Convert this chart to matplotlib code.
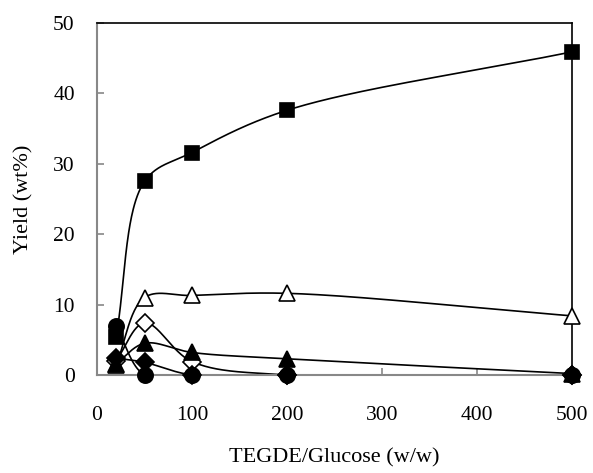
import numpy as np
import matplotlib
matplotlib.use('Agg')
import matplotlib.pyplot as plt

plt.rcParams['font.family'] = ['Liberation Serif', 'DejaVu Serif']

# Data
ratio = [20, 50, 100, 200, 500]
sq_filled = [5.4, 27.5, 31.6, 37.6, 45.9]
tri_open = [1.4, 11.0, 11.3, 11.6, 8.4]
dia_open = [2.0, 7.4, 1.9, 0.0, 0.0]
tri_filled = [1.6, 4.5, 3.2, 2.3, 0.2]
dia_filled = [2.4, 1.8, 0.0, 0.0, 0.0]
circ_filled = [6.9, 0.0, 0.0, 0.0, 0.0]

# pixel scale used so the smoothing looks like the spreadsheet one
sx, sy = 0.95, 7.04


def smooth(xs, ys, n=60, alpha=0.5):
    """Centripetal Catmull-Rom through the points, done in screen units."""
    p = np.column_stack([np.array(xs) * sx, np.array(ys) * sy])
    pts = np.vstack([2 * p[0] - p[1], p, 2 * p[-1] - p[-2]])
    out = []
    for i in range(len(pts) - 3):
        P0, P1, P2, P3 = pts[i:i + 4]
        t0 = 0.0
        t1 = t0 + np.linalg.norm(P1 - P0) ** alpha
        t2 = t1 + np.linalg.norm(P2 - P1) ** alpha
        t3 = t2 + np.linalg.norm(P3 - P2) ** alpha
        t = np.linspace(t1, t2, n)[:, None]
        A1 = (t1 - t) / (t1 - t0) * P0 + (t - t0) / (t1 - t0) * P1
        A2 = (t2 - t) / (t2 - t1) * P1 + (t - t1) / (t2 - t1) * P2
        A3 = (t3 - t) / (t3 - t2) * P2 + (t - t2) / (t3 - t2) * P3
        B1 = (t2 - t) / (t2 - t0) * A1 + (t - t0) / (t2 - t0) * A2
        B2 = (t3 - t) / (t3 - t1) * A2 + (t - t1) / (t3 - t1) * A3
        C = (t2 - t) / (t2 - t1) * B1 + (t - t1) / (t2 - t1) * B2
        out.append(C)
    out = np.vstack(out)
    return out[:, 0] / sx, out[:, 1] / sy


fig = plt.figure(figsize=(5.93, 4.73), dpi=100)
ax = fig.add_axes([0.1636, 0.2072, 0.801, 0.7442])

series = [
    (sq_filled, 's', 'black', 10),
    (tri_open, '^', 'white', 12),
    (dia_open, 'D', 'white', 9),
    (tri_filled, '^', 'black', 12),
    (dia_filled, 'D', 'black', 9),
    (circ_filled, 'o', 'black', 11),
]

for ys, mk, fc, ms in series:
    cx, cy = smooth(ratio, ys)
    ax.plot(cx, cy, color='black', lw=1.2, zorder=2)
for ys, mk, fc, ms in series:
    ax.plot(ratio, ys, linestyle='none', marker=mk, markersize=ms,
            markerfacecolor=fc, markeredgecolor='black', markeredgewidth=1.2,
            zorder=3, clip_on=False)

ax.set_xlim(0, 500)
ax.set_ylim(0, 50)
ax.set_xticks([0, 100, 200, 300, 400, 500])
ax.set_yticks([0, 10, 20, 30, 40, 50])

for side in ['left', 'bottom']:
    ax.spines[side].set_color('#888888')
    ax.spines[side].set_linewidth(1.5)
for side in ['top', 'right']:
    ax.spines[side].set_color('black')
    ax.spines[side].set_linewidth(1.2)

ax.tick_params(direction='in', length=5, width=1.2, color='#888888',
               labelsize=15.5, top=False, right=False)
ax.tick_params(axis='x', pad=22)
ax.tick_params(axis='y', pad=16)

ax.set_xlabel('TEGDE/Glucose (w/w)', fontsize=16, labelpad=17)
ax.set_ylabel('Yield (wt%)', fontsize=16, labelpad=14)

fig.savefig('out.png', dpi=100)
